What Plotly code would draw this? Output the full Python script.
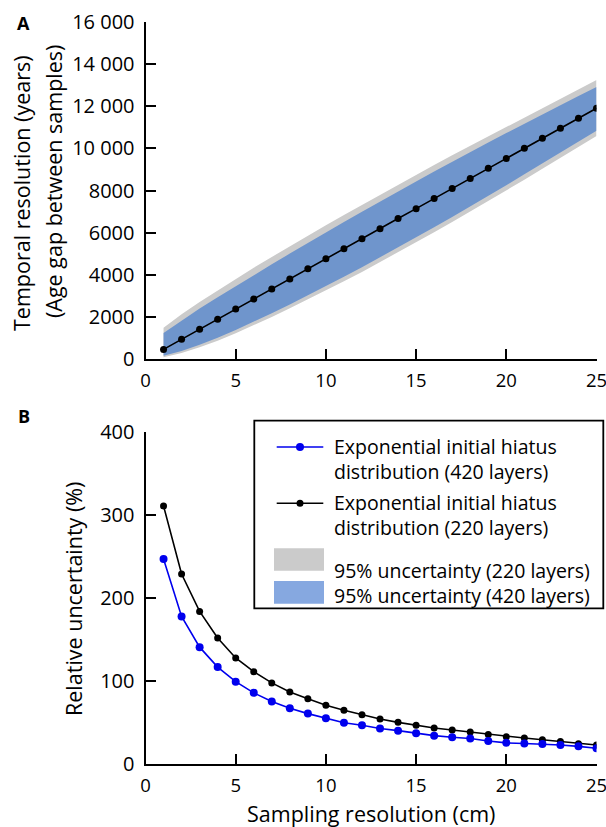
import plotly.graph_objects as go

W, H = 606, 827
FONT = "Open Sans"

# ---------------- data ----------------
sampling_cm = list(range(1, 26))

# Panel A: temporal resolution (years)
age_gap_220 = [470, 950, 1430, 1900, 2380, 2860, 3330, 3810, 4290, 4760, 5240, 5710, 6190,
               6670, 7140, 7620, 8100, 8570, 9050, 9520, 10000, 10480, 10950, 11430, 11900]
blue_upper = [1250, 1850, 2410, 2940, 3470, 3990, 4500, 5010, 5520, 6010, 6510, 6990, 7480,
              7960, 8430, 8900, 9370, 9820, 10280, 10720, 11170, 11610, 12040, 12480, 12900]
blue_lower = [170, 390, 690, 1020, 1390, 1780, 2180, 2600, 3030, 3460, 3910, 4360, 4830,
              5300, 5770, 6260, 6750, 7240, 7750, 8250, 8770, 9290, 9800, 10320, 10830]
grey_upper = [1490, 2130, 2720, 3270, 3810, 4340, 4850, 5360, 5860, 6350, 6840, 7320, 7800,
              8280, 8740, 9210, 9670, 10120, 10580, 11020, 11470, 11920, 12350, 12800, 13240]
grey_lower = [100, 300, 570, 880, 1240, 1620, 2010, 2420, 2840, 3260, 3700, 4140, 4600,
              5070, 5540, 6020, 6510, 7000, 7500, 8000, 8510, 9030, 9540, 10060, 10580]

# Panel B: relative uncertainty (%)
rel_unc_420 = [247, 178, 141, 117, 99.5, 86, 75.5, 67.5, 61, 55.5, 50, 47, 43, 40.5, 37.5,
               34.5, 32.5, 31, 28, 25.8, 25, 24.4, 23.2, 21.6, 19.3]
rel_unc_220 = [311, 229, 184, 152, 128, 111.5, 98, 87, 79, 71, 65, 59.5, 54.5, 50.5, 47,
               43.7, 41.3, 38.8, 35.8, 33.2, 31.6, 29.6, 27.3, 24.8, 23.2]

yA_ticks = [0, 2000, 4000, 6000, 8000, 10000, 12000, 14000, 16000]
yA_labels = ["0", "2000", "4000", "6000", "8000", "10 000", "12 000", "14 000", "16 000"]
yB_ticks = [0, 100, 200, 300, 400]
x_ticks = [0, 5, 10, 15, 20, 25]

legend_labels = ["Exponential initial hiatus<br>distribution (420 layers)",
                 "Exponential initial hiatus<br>distribution (220 layers)",
                 "95% uncertainty (220 layers)",
                 "95% uncertainty (420 layers)"]

# ---------------- styles ----------------
GREY = "#cbcbcb"
BLUE_BAND = "#6f95cc"
BLUE_LEG = "#86a8e0"
BLUE_LINE = "#0000ee"
YTICK_SIZE = 20
XTICK_SIZE = 18.5
TITLE_SIZE = 21.5
LEG_SIZE = 19.5


def px_x(p):
    return p / W


def px_y(p):
    return 1 - p / H


xdom = [px_x(145.5), px_x(596.5)]
yA_dom = [px_y(359.3), px_y(21.7)]
yB_dom = [px_y(764.3), px_y(432.0)]

fig = go.Figure()

# Panel A bands
fig.add_trace(go.Scatter(x=sampling_cm, y=grey_lower, mode="lines", line=dict(width=0),
                         showlegend=False, hoverinfo="skip", xaxis="x", yaxis="y"))
fig.add_trace(go.Scatter(x=sampling_cm, y=grey_upper, mode="lines", line=dict(width=0),
                         fill="tonexty", fillcolor=GREY, name="95% uncertainty (220 layers)",
                         showlegend=False, xaxis="x", yaxis="y"))
fig.add_trace(go.Scatter(x=sampling_cm, y=blue_lower, mode="lines", line=dict(width=0),
                         showlegend=False, hoverinfo="skip", xaxis="x", yaxis="y"))
fig.add_trace(go.Scatter(x=sampling_cm, y=blue_upper, mode="lines", line=dict(width=0),
                         fill="tonexty", fillcolor=BLUE_BAND, name="95% uncertainty (420 layers)",
                         showlegend=False, xaxis="x", yaxis="y"))
fig.add_trace(go.Scatter(x=sampling_cm, y=age_gap_220, mode="lines+markers",
                         line=dict(color="black", width=1.6),
                         marker=dict(color="black", size=7),
                         showlegend=False, xaxis="x", yaxis="y"))

# Panel B lines
fig.add_trace(go.Scatter(x=sampling_cm, y=rel_unc_220, mode="lines+markers",
                         line=dict(color="black", width=1.6),
                         marker=dict(color="black", size=7),
                         name="Exponential initial hiatus distribution (220 layers)",
                         showlegend=False, xaxis="x2", yaxis="y2"))
fig.add_trace(go.Scatter(x=sampling_cm, y=rel_unc_420, mode="lines+markers",
                         line=dict(color=BLUE_LINE, width=1.6),
                         marker=dict(color=BLUE_LINE, size=8),
                         name="Exponential initial hiatus distribution (420 layers)",
                         showlegend=False, xaxis="x2", yaxis="y2"))

axis_common = dict(showgrid=False, zeroline=False, showline=True, linecolor="black",
                   linewidth=2, ticks="inside", ticklen=10, tickwidth=2, tickcolor="black",
                   ticklabeloverflow="allow")
xfont = dict(family=FONT, size=XTICK_SIZE, color="black")
yfont = dict(family=FONT, size=YTICK_SIZE, color="black")

fig.update_layout(
    width=W, height=H, margin=dict(l=0, r=0, t=0, b=0, autoexpand=False),
    paper_bgcolor="white", plot_bgcolor="white", showlegend=False,
    xaxis=dict(domain=xdom, anchor="y", range=[0, 25], tickvals=x_ticks,
               ticklabelstandoff=3, tickfont=xfont, **axis_common),
    yaxis=dict(domain=yA_dom, anchor="x", range=[0, 16000], tickvals=yA_ticks,
               ticktext=yA_labels, ticklabelstandoff=5, tickfont=yfont, **axis_common),
    xaxis2=dict(domain=xdom, anchor="y2", range=[0, 25], tickvals=x_ticks,
                ticklabelstandoff=3, tickfont=xfont, **axis_common),
    yaxis2=dict(domain=yB_dom, anchor="x2", range=[0, 400], tickvals=yB_ticks,
                ticklabelstandoff=5, tickfont=yfont, **axis_common),
)


def note(text, cx, cy, size, angle=0, xanchor="center", align="center"):
    return dict(text=text, x=px_x(cx), y=px_y(cy), xref="paper", yref="paper",
                xanchor=xanchor, yanchor="middle", showarrow=False, textangle=angle,
                align=align, borderpad=0,
                font=dict(family=FONT, size=size, color="black"))


ann = [
    note("<b>A</b>", 23, 23, 18),
    note("<b>B</b>", 24, 416.5, 18),
    note("Temporal resolution (years)", 21, 193, TITLE_SIZE, -90),
    note("(Age gap between samples)", 53, 182, TITLE_SIZE, -90),
    note("Relative uncertainty (%)", 73, 599, TITLE_SIZE, -90),
    note("Sampling resolution (cm)", 371, 813, TITLE_SIZE),
]

# legend text: two-line entries, then the two band entries stacked in one block
ann.append(note(legend_labels[0], 333, 458.5, LEG_SIZE, xanchor="left", align="left"))
ann.append(note(legend_labels[1], 333, 514.5, LEG_SIZE, xanchor="left", align="left"))
ann.append(note(legend_labels[2] + "<br>" + legend_labels[3], 333, 583, LEG_SIZE,
                xanchor="left", align="left"))

fig.update_layout(annotations=ann)

shapes = []
# legend box
shapes.append(dict(type="rect", xref="paper", yref="paper", x0=px_x(254.3), x1=px_x(603.3),
                   y0=px_y(608.3), y1=px_y(420.7), line=dict(color="black", width=1.8),
                   fillcolor="white", layer="above"))
# legend line symbols
for yc, col in [(447, BLUE_LINE), (503.3, "black")]:
    shapes.append(dict(type="line", xref="paper", yref="paper", x0=px_x(276.7), x1=px_x(323.3),
                       y0=px_y(yc), y1=px_y(yc), line=dict(color=col, width=1.6), layer="above"))
    r = 4 if col == BLUE_LINE else 3.5
    shapes.append(dict(type="circle", xref="paper", yref="paper", x0=px_x(300 - r),
                       x1=px_x(300 + r), y0=px_y(yc + r), y1=px_y(yc - r),
                       fillcolor=col, line=dict(color=col, width=0), layer="above"))
# legend patches
for y0, y1, col in [(548.3, 570.7, GREY), (581.0, 603.7, BLUE_LEG)]:
    shapes.append(dict(type="rect", xref="paper", yref="paper", x0=px_x(274), x1=px_x(324),
                       y0=px_y(y1), y1=px_y(y0), fillcolor=col, line=dict(width=0),
                       layer="above"))
fig.update_layout(shapes=shapes)

fig.write_html("out.html")
